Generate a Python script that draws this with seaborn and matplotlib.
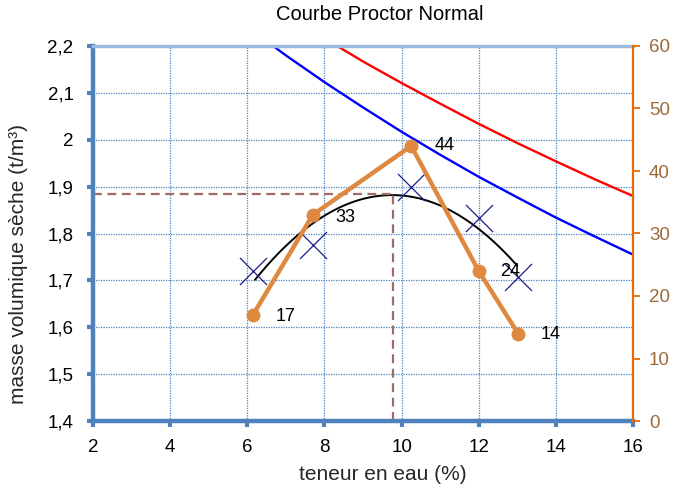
import numpy as np
import pandas as pd
import matplotlib
matplotlib.use("Agg")
import matplotlib.pyplot as plt
import seaborn as sns

# ---- data ----
w_test = [6.15, 7.7, 10.25, 12.0, 13.02]          # teneur en eau (%)
rho_test = [1.72, 1.775, 1.90, 1.833, 1.707]      # masse volumique sèche
orange_vals = [17, 33, 44, 24, 14]                # right-axis series
orange_labels = ["17", "33", "44", "24", "14"]

sat_blue_x = [6.67, 7, 8, 9, 10, 11, 12, 13, 14, 15, 16]
sat_blue_y = [2.20, 2.180, 2.123, 2.069, 2.017, 1.968, 1.921, 1.877, 1.834, 1.794, 1.755]
sat_red_x = [8.33, 9, 10, 11, 12, 13, 14, 15, 16]
sat_red_y = [2.20, 2.167, 2.121, 2.077, 2.034, 1.993, 1.954, 1.916, 1.880]

w_opt = 9.78
rho_opt = 1.884

xticks = [2, 4, 6, 8, 10, 12, 14, 16]
yticks = [1.4, 1.5, 1.6, 1.7, 1.8, 1.9, 2.0, 2.1, 2.2]
ytick_labels = ["1,4", "1,5", "1,6", "1,7", "1,8", "1,9", "2", "2,1", "2,2"]
y2ticks = [0, 10, 20, 30, 40, 50, 60]

sns.set_theme(style="white")
plt.rcParams['font.family'] = ['Liberation Sans', 'DejaVu Sans']

fig = plt.figure(figsize=(6.73, 4.86), dpi=100)
ax = fig.add_axes([93/673, 1-421/486, 540/673, 375/486])
ax2 = ax.twinx()

# grid
ax.set_xlim(2, 16)
ax.set_ylim(1.4, 2.2)
ax.set_xticks(xticks)
ax.set_yticks(yticks)
ax.set_yticklabels(ytick_labels)
ax.grid(True, color="#4F81BD", linestyle=(0, (1, 1)), linewidth=0.9)
ax.set_axisbelow(True)

# trendline (polynomial fit of test points)
coef = np.polyfit(w_test, rho_test, 2)
xs = np.linspace(6.2, 13.0, 100)
fit = pd.DataFrame({"x": xs, "y": np.polyval(coef, xs)})
sns.lineplot(data=fit, x="x", y="y", ax=ax, color="black", linewidth=1.4)

# saturation curves
sns.lineplot(x=sat_blue_x, y=sat_blue_y, ax=ax, color="#0000FF", linewidth=1.7)
sns.lineplot(x=sat_red_x, y=sat_red_y, ax=ax, color="#FF0000", linewidth=1.7)

# test points
sns.scatterplot(x=w_test, y=rho_test, ax=ax, marker="x", s=380, color="#1C1C8C",
                linewidth=0.9, zorder=4)

# optimum dashes
ax.plot([2, w_opt], [rho_opt, rho_opt], color="#9E6B6B", linestyle=(0, (4, 2.5)), linewidth=1.6)
ax.plot([w_opt, w_opt], [1.4, rho_opt], color="#9E6B6B", linestyle=(0, (4, 2.5)), linewidth=1.6)

# orange series on secondary axis
sns.lineplot(x=w_test, y=orange_vals, ax=ax2, color="#DE8840", linewidth=3.2,
             marker="o", markersize=10, markeredgewidth=0)
offsets = [(16.5, -1.5), (16.5, -2), (16.5, 0), (15.5, 0), (16.5, -0.5)]
for xv, yv, lab, off in zip(w_test, orange_vals, orange_labels, offsets):
    ax2.annotate(lab, (xv, yv), xytext=off, textcoords="offset points",
                 ha="left", va="center", fontsize=13, color="black")
ax2.set_ylim(0, 60)
ax2.set_yticks(y2ticks)
ax2.grid(False)

# spines & ticks
for s in ["left", "bottom"]:
    ax.spines[s].set_color("#4F81BD")
    ax.spines[s].set_linewidth(3.2)
ax.spines["top"].set_color("#9DB9DC")
ax.spines["top"].set_linewidth(2.5)
ax.spines["right"].set_visible(False)
for s in ["left", "bottom", "top"]:
    ax2.spines[s].set_visible(False)
ax2.spines["right"].set_color("#E46C0A")
ax2.spines["right"].set_linewidth(1.6)

ax.tick_params(axis="both", which="major", direction="out", length=4, width=3,
               color="#4F81BD", labelsize=13.5, labelcolor="black")
ax.tick_params(axis="y", left=True, pad=10)
ax.tick_params(axis="x", bottom=True, pad=9)
ax2.tick_params(axis="y", direction="out", length=5, width=1.3, color="#E46C0A",
                labelsize=13.5, labelcolor="#9C6A3C", right=True, pad=6.5)

ax.set_xlabel("teneur en eau (%)", fontsize=15)
ax.set_ylabel("masse volumique sèche (t/m³)", fontsize=15)
ax.xaxis.set_label_coords(0.537, -0.117)
ax.xaxis.label.set_verticalalignment("top")
ax.yaxis.set_label_coords(-0.12, 0.419)
ax2.set_ylabel("")
fig.text(380/673, 1-14/486, "Courbe Proctor Normal", ha="center", va="center",
         fontsize=14.5, color="black")

fig.savefig("out.png", dpi=100)
